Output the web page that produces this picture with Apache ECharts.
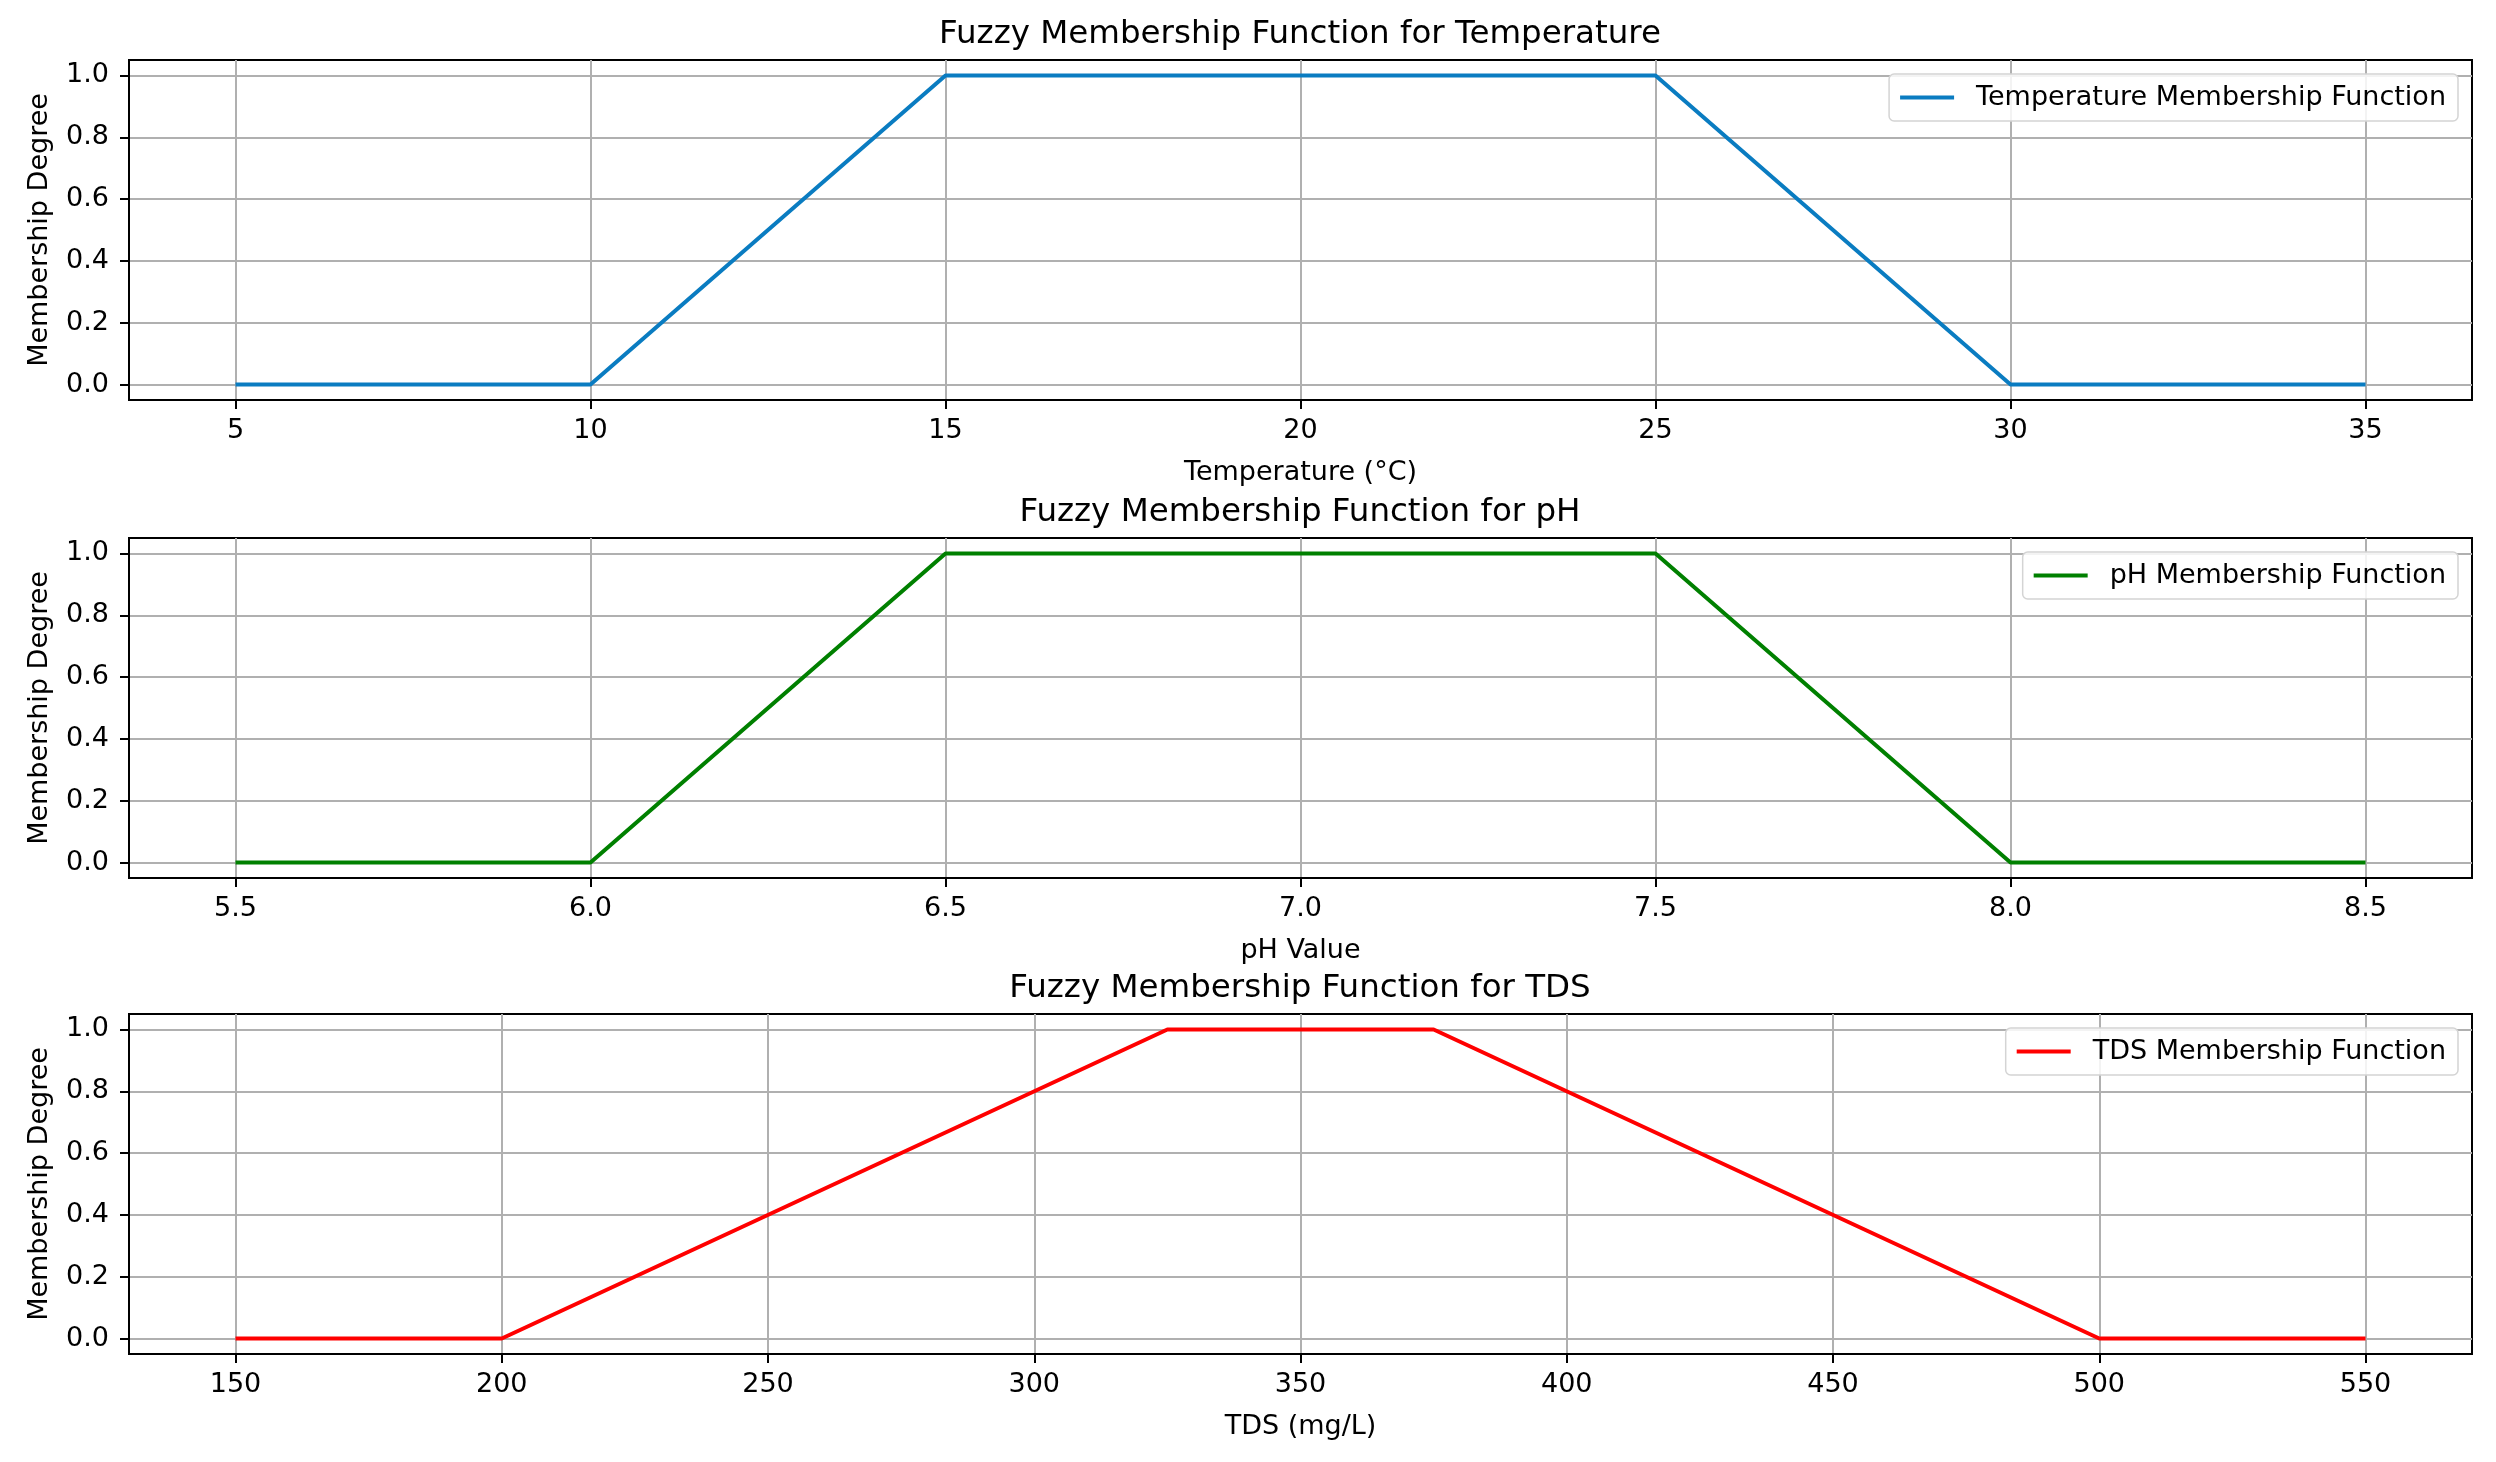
<!DOCTYPE html>
<html>
<head>
<meta charset="utf-8">
<script src="https://cdn.jsdelivr.net/npm/echarts@6/dist/echarts.min.js"></script>
<style>
html,body{margin:0;padding:0;background:#fff;}
#c{width:2496px;height:1462px;}
</style>
</head>
<body>
<div id="c"></div>
<script>
// ---- data ----
const tempX = [5, 10, 15, 25, 30, 35];
const tempY = [0, 0, 1, 1, 0, 0];
const phX = [5.5, 6.0, 6.5, 7.5, 8.0, 8.5];
const phY = [0, 0, 1, 1, 0, 0];
const tdsX = [150, 200, 325, 375, 500, 550];
const tdsY = [0, 0, 1, 1, 0, 0];

const tempTicks = [5, 10, 15, 20, 25, 30, 35];
const phTicks = [5.5, 6.0, 6.5, 7.0, 7.5, 8.0, 8.5];
const tdsTicks = [150, 200, 250, 300, 350, 400, 450, 500, 550];
const yTicks = [0, 0.2, 0.4, 0.6, 0.8, 1.0];

const titles = ['Fuzzy Membership Function for Temperature', 'Fuzzy Membership Function for pH', 'Fuzzy Membership Function for TDS'];
const xNames = ['Temperature (°C)', 'pH Value', 'TDS (mg/L)'];
const seriesNames = ['Temperature Membership Function', 'pH Membership Function', 'TDS Membership Function'];
const colors = ['#0a7cc1', '#008000', '#ff0000'];

const FONT = 'DejaVu Sans';
const FS = 27;
const gridTops = [60, 538, 1014];
const gridH = 340;

function pairs(xs, ys) { return xs.map((x, i) => [x, ys[i]]); }

const xInfo = [
  {ticks: tempTicks, min: 3.5, max: 36.5, fmt: v => String(v)},
  {ticks: phTicks, min: 5.35, max: 8.65, fmt: v => Number(v).toFixed(1)},
  {ticks: tdsTicks, min: 130, max: 570, fmt: v => String(v)}
];
const dataSets = [pairs(tempX, tempY), pairs(phX, phY), pairs(tdsX, tdsY)];

const option = {
  backgroundColor: '#fff',
  animation: false,
  title: titles.map((t, i) => ({
    text: t, left: 1300, top: gridTops[i] - 42, textAlign: 'center', padding: 0,
    textStyle: {fontFamily: FONT, fontSize: 32.5, fontWeight: 'normal', color: '#000'}
  })),
  legend: seriesNames.map((n, i) => ({
    data: [n], right: 38, top: gridTops[i] + 14,
    orient: 'vertical',
    backgroundColor: 'rgba(255,255,255,0.85)', borderColor: '#d4d4d4', borderWidth: 1.5, borderRadius: 5,
    padding: [10, 12, 10, 11],
    icon: 'rect', itemWidth: 54, itemHeight: 4, itemGap: 10,
    textStyle: {fontFamily: FONT, fontSize: FS, color: '#000', padding: [0, 0, 0, 17]}
  })),
  grid: gridTops.map(t => ({
    left: 129, right: 24, top: t, height: gridH,
    show: true, borderColor: '#000', borderWidth: 2, backgroundColor: 'transparent', containLabel: false
  })),
  xAxis: xInfo.map((a, i) => ({
    type: 'value', gridIndex: i, min: a.min, max: a.max,
    name: xNames[i], nameLocation: 'middle', nameGap: 59,
    nameTextStyle: {fontFamily: FONT, fontSize: FS, color: '#000'},
    axisLine: {show: true, onZero: false, lineStyle: {color: '#000', width: 2}},
    axisTick: {show: true, length: 9, lineStyle: {color: '#000', width: 2}, customValues: a.ticks},
    axisLabel: {fontFamily: FONT, fontSize: FS, color: '#000', margin: 17, customValues: a.ticks, formatter: a.fmt},
    splitLine: {show: true, lineStyle: {color: '#b0b0b0', width: 2}}
  })),
  yAxis: gridTops.map((t, i) => ({
    type: 'value', gridIndex: i, min: -0.05, max: 1.05,
    name: 'Membership Degree', nameLocation: 'middle', nameGap: 76, nameRotate: 90,
    nameTextStyle: {fontFamily: FONT, fontSize: FS, color: '#000'},
    axisLine: {show: true, onZero: false, lineStyle: {color: '#000', width: 2}},
    axisTick: {show: true, length: 9, lineStyle: {color: '#000', width: 2}, customValues: yTicks},
    axisLabel: {fontFamily: FONT, fontSize: FS, color: '#000', margin: 20, customValues: yTicks, formatter: v => Number(v).toFixed(1)},
    splitLine: {show: true, lineStyle: {color: '#b0b0b0', width: 2}}
  })),
  series: dataSets.map((d, i) => ({
    type: 'line', name: seriesNames[i], xAxisIndex: i, yAxisIndex: i,
    data: d, symbol: 'none', showSymbol: false,
    lineStyle: {color: colors[i], width: 4}, itemStyle: {color: colors[i]}
  }))
};

const chart = echarts.init(document.getElementById('c'), null, {renderer: 'canvas'});
chart.setOption(option);
</script>
</body>
</html>
